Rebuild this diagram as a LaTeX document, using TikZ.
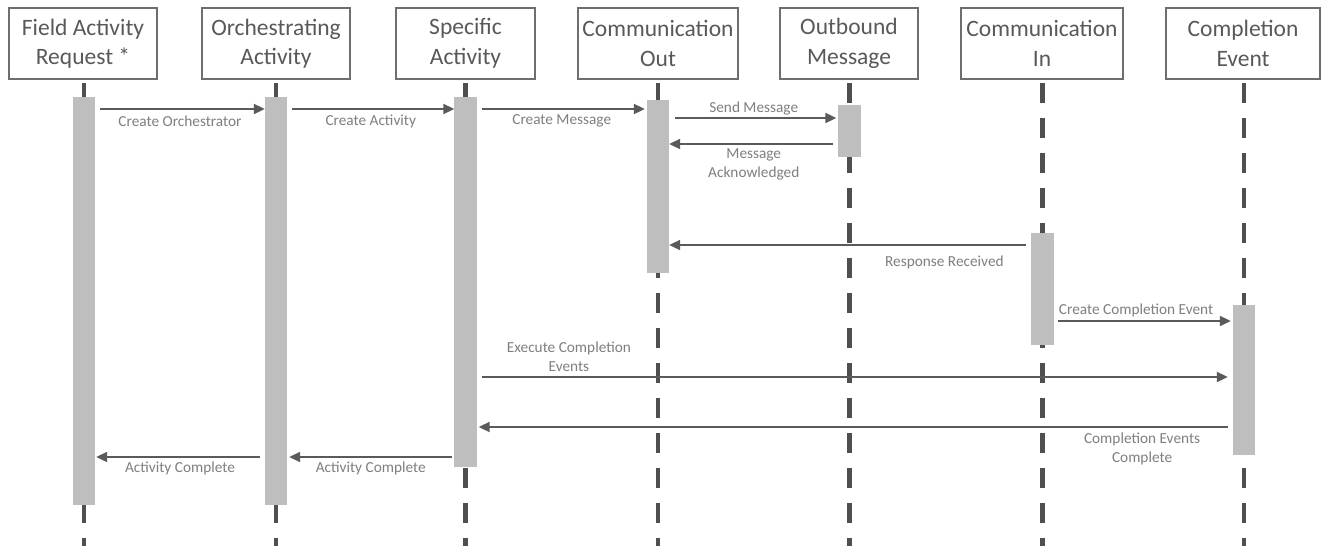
\documentclass[tikz,border=0pt]{standalone}
\usepackage{fontspec}
\setmainfont{Carlito}
\usetikzlibrary{arrows.meta}
\definecolor{boxc}{HTML}{6E6E6E}
\definecolor{titlec}{HTML}{595959}
\definecolor{lifec}{HTML}{4F4F4F}
\definecolor{barc}{HTML}{BEBEBE}
\definecolor{arrc}{HTML}{5A5A5A}
\definecolor{lblc}{HTML}{7F7F7F}
\begin{document}
\begin{tikzpicture}[x=1pt,y=-1pt,
  head/.style={draw=boxc, line width=1.5pt, inner sep=0pt, minimum height=71pt, align=center, text=titlec, font=\fontsize{23.5}{29.5}\selectfont},
  life/.style={draw=lifec, line width=4.5pt, dash pattern=on 20pt off 15pt, dash phase=32pt},
  bar/.style={fill=barc, inner sep=0pt, minimum width=22pt},
  msg/.style={draw=arrc, line width=2pt, -{Triangle[length=11pt,width=10pt]}},
  lbl/.style={text=lblc, font=\fontsize{15.3}{19}\selectfont, align=center, inner sep=0pt}]
\useasboundingbox (0,0) rectangle (1322,546);
\fill[white] (0,0) rectangle (1322,546);
% headers
\node[head, minimum width=148pt] (hF) at (83,43.5) {Field Activity\\Request *};
\node[head, minimum width=148pt] (hO) at (276,43.5) {Orchestrating\\Activity};
\node[head, minimum width=139pt] (hS) at (465.5,43.5) {Specific\\Activity};
\node[head, minimum width=160pt] (hCO) at (658,43.5) {Communication\\Out};
\node[head, minimum width=138pt] (hOM) at (849,43.5) {Outbound\\Message};
\node[head, minimum width=162pt] (hCI) at (1042,43.5) {Communication\\In};
\node[head, minimum width=154pt] (hCE) at (1243,43.5) {Completion\\Event};
% activation bars
\node[bar, minimum height=408pt] (bF) at (84,301) {};
\node[bar, minimum height=408pt] (bO) at (276,301) {};
\node[bar, minimum height=370pt] (bS) at (465.5,282) {};
\node[bar, minimum height=173pt] (bCO) at (658,186.5) {};
\node[bar, minimum height=52pt] (bOM) at (849.5,131) {};
\node[bar, minimum height=112pt] (bCI) at (1042.5,289) {};
\node[bar, minimum height=150pt] (bCE) at (1244,380) {};
% lifelines
\coordinate (bot) at (0,546);
\foreach \b/\h in {bF/hF,bO/hO,bS/hS,bCO/hCO,bOM/hOM,bCI/hCI,bCE/hCE}{
  \draw[life] (\b |- \h.south) -- (\b |- bot);
}
% redraw bars over lifelines
\foreach \b in {bF,bO,bS,bCO,bOM,bCI,bCE}{
  \fill[barc] (\b.north west) rectangle (\b.south east);
}
% message rows
\coordinate (y1) at (0,109);
\coordinate (y2) at (0,118);
\coordinate (y3) at (0,144);
\coordinate (y4) at (0,245);
\coordinate (y5) at (0,321);
\coordinate (y6) at (0,377);
\coordinate (y7) at (0,427);
\coordinate (y8) at (0,457);
\draw[msg, shorten <=5pt] (bF.east |- y1) -- (bO.west |- y1) node[lbl, midway, yshift=-12pt] {Create Orchestrator};
\draw[msg, shorten <=5pt] (bO.east |- y1) -- (bS.west |- y1) node[lbl, midway, yshift=-12pt] {Create Activity};
\draw[msg, shorten <=5pt, shorten >=2pt] (bS.east |- y1) -- (bCO.west |- y1) node[lbl, midway, yshift=-12pt] {Create Message};
\draw[msg, shorten <=6pt, shorten >=2pt] (bCO.east |- y2) -- (bOM.west |- y2) node[lbl, midway, yshift=9pt] {Send Message};
\draw[msg, shorten <=5pt] (bOM.west |- y3) -- (bCO.east |- y3) node[lbl, midway, yshift=-20.5pt] {Message\\Acknowledged};
\draw[msg, shorten <=5pt] (bCI.west |- y4) -- (bCO.east |- y4) node[lbl, pos=0.24, yshift=-17pt] {Response Received};
\draw[msg, shorten <=4pt, shorten >=2pt] (bCI.east |- y5) -- (bCE.west |- y5) node[lbl, pos=0.46, yshift=11pt] {Create Completion Event};
\draw[msg, shorten <=5pt, shorten >=5pt] (bS.east |- y6) -- (bCE.west |- y6) node[lbl, pos=0.122, yshift=20.5pt] {Execute Completion\\Events};
\draw[msg, shorten <=5pt, shorten >=2pt] (bCE.west |- y7) -- (bS.east |- y7) node[lbl, pos=0.12, yshift=-21.5pt] {Completion Events\\Complete};
\draw[msg, shorten <=2pt, shorten >=2pt] (bS.west |- y8) -- (bO.east |- y8) node[lbl, midway, yshift=-11pt] {Activity Complete};
\draw[msg, shorten <=5pt, shorten >=1pt] (bO.west |- y8) -- (bF.east |- y8) node[lbl, midway, yshift=-11pt] {Activity Complete};
\end{tikzpicture}
\end{document}
